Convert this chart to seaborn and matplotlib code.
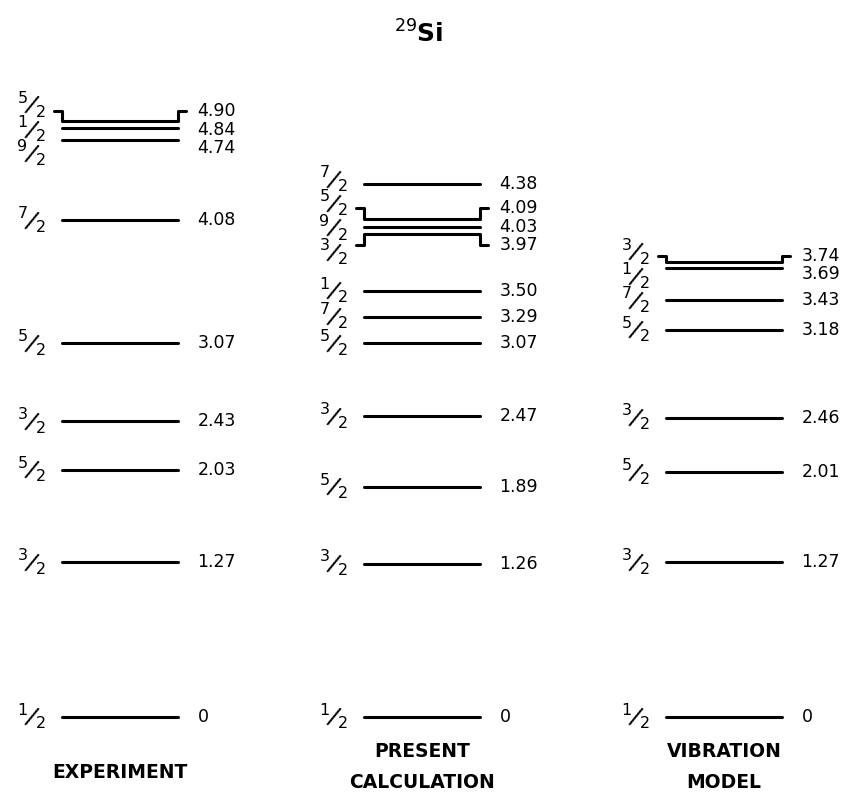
import numpy as np
import pandas as pd
import matplotlib
matplotlib.use("Agg")
import matplotlib.pyplot as plt
import seaborn as sns

# Level data (MeV) and spins, per column
columns = ["EXPERIMENT", "PRESENT\nCALCULATION", "VIBRATION\nMODEL"]

exp_energy = [0, 1.27, 2.03, 2.43, 3.07, 4.08, 4.74, 4.84, 4.90]
exp_spin = ["1/2", "3/2", "5/2", "3/2", "5/2", "7/2", "9/2", "1/2", "5/2"]

calc_energy = [0, 1.26, 1.89, 2.47, 3.07, 3.29, 3.50, 3.97, 4.03, 4.09, 4.38]
calc_spin = ["1/2", "3/2", "5/2", "3/2", "5/2", "7/2", "1/2", "3/2", "9/2", "5/2", "7/2"]

vib_energy = [0, 1.27, 2.01, 2.46, 3.18, 3.43, 3.69, 3.74]
vib_spin = ["1/2", "3/2", "5/2", "3/2", "5/2", "7/2", "1/2", "3/2"]

# levels drawn with a bracket to their shifted label
bracketed = [[4.90], [4.09, 3.97], [3.74]]

energies = [exp_energy, calc_energy, vib_energy]
spins = [exp_spin, calc_spin, vib_spin]

# layout (pixels -> data units)
PX_X = 302.0      # px per column
X_OFF = 120.0     # px of first column centre
PX_Y = 121.7      # px per MeV
Y0 = 717.0        # px of the ground state
HW = 58 / PX_X    # half width of a level line
STUB = 8 / PX_X
BR_MAX = 0.09


def spread(vals, gap):
    """Push labels apart so they are at least `gap` apart."""
    vals = np.asarray(vals, float)
    order = np.argsort(vals)
    v = vals[order]
    groups = [[i] for i in range(len(v))]

    def lo_hi(g):
        c = v[g].mean()
        h = (len(g) - 1) / 2 * gap
        return c - h, c + h

    merged = True
    while merged:
        merged = False
        for k in range(len(groups) - 1):
            if lo_hi(groups[k + 1])[0] - lo_hi(groups[k])[1] < gap - 1e-9:
                groups[k] = groups[k] + groups[k + 1]
                del groups[k + 1]
                merged = True
                break
    pos = np.empty_like(v)
    for g in groups:
        lo, _ = lo_hi(g)
        for j, i in enumerate(g):
            pos[i] = lo + j * gap
    out = np.empty_like(pos)
    out[order] = pos
    return out


# build line segments for seaborn
rows = []
seg = 0
label_info = []
for c, (en, sp) in enumerate(zip(energies, spins)):
    e_lab = spread(en, 0.15)
    s_lab = spread(en, 0.20)
    x0, x1 = c - HW, c + HW
    for e, s, ey, sy in zip(en, sp, e_lab, s_lab):
        if e in bracketed[c]:
            yb = e + np.clip(ey - e, -BR_MAX, BR_MAX)
            pts = [(x0 - STUB, yb), (x0, yb), (x0, e), (x1, e), (x1, yb), (x1 + STUB, yb)]
        else:
            pts = [(x0, e), (x1, e)]
        for k, (x, y) in enumerate(pts):
            rows.append({"seg": seg, "order": k, "x": x, "y": y})
        seg += 1
        txt = "0" if e == 0 else f"{e:.2f}"
        label_info.append((x0, x1, ey, sy, txt, s))

df = pd.DataFrame(rows)

sns.set_theme(style="white")
plt.rcParams["font.family"] = ["DejaVu Sans"]
plt.rcParams["text.color"] = "black"

fig = plt.figure(figsize=(8.51, 7.96), dpi=100)
ax = fig.add_axes([0, 0, 1, 1])

sns.lineplot(data=df, x="x", y="y", units="seg", estimator=None, sort=False,
             color="black", lw=2.2, legend=False, ax=ax)

for x0, x1, ey, sy, txt, s in label_info:
    ax.annotate(txt, (x1, ey), xytext=(14, 0), textcoords="offset points",
                ha="left", va="center", fontsize=12.5)
    num, den = s.split("/")
    ax.annotate(num, (x0, sy), xytext=(-28.5, 5), textcoords="offset points",
                ha="center", va="center", fontsize=11.5)
    ax.annotate("/", (x0, sy), xytext=(-22, 0), textcoords="offset points",
                ha="center", va="center", fontsize=18, rotation=-22,
                rotation_mode="anchor")
    ax.annotate(den, (x0, sy), xytext=(-15, -5), textcoords="offset points",
                ha="center", va="center", fontsize=11.5)

# column titles
title_y = [-(772 - Y0) / PX_Y, -(767 - Y0) / PX_Y, -(767 - Y0) / PX_Y]
for c, (name, ty) in enumerate(zip(columns, title_y)):
    ax.text(c, ty, name, ha="center", va="center", fontsize=13.5,
            fontweight="bold", linespacing=1.75)

# nucleus label
ax.text(0.99, (Y0 - 34) / PX_Y, r"$^{29}$Si", ha="center", va="center",
        fontsize=18, fontweight="bold")

ax.set_xlim(-X_OFF / PX_X, (851 - X_OFF) / PX_X)
ax.set_ylim(-(796 - Y0) / PX_Y, Y0 / PX_Y)
ax.axis("off")

fig.savefig("out.png", dpi=100)
